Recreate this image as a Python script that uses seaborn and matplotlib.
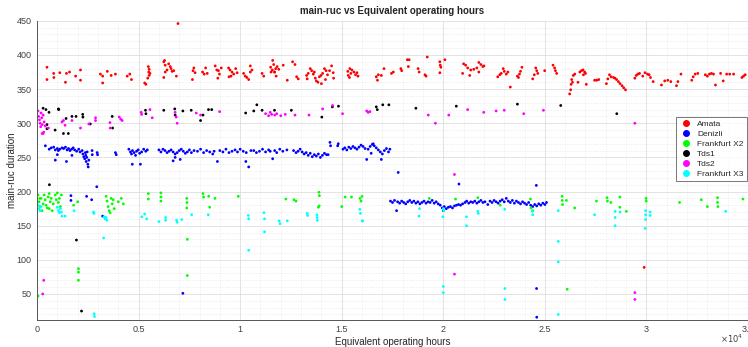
import pandas as pd
import seaborn as sns
import matplotlib.pyplot as plt
from matplotlib.lines import Line2D
from matplotlib.ticker import MultipleLocator, FuncFormatter

# (equivalent operating hours, main-ruc duration)
amata = [
    (490, 382), (490, 364), (820, 373), (830, 367), (1120, 374), (1400, 360), (1450, 373), (1600, 375),
    (1900, 369), (2140, 378), (2140, 363), (3120, 372), (3230, 369), (3230, 359), (3460, 376), (3650, 370),
    (3860, 372), (4440, 369), (4570, 372), (4650, 364), (5300, 359), (5360, 357), (5480, 383), (5520, 379),
    (5500, 375), (5560, 373), (5520, 370), (5450, 366), (6240, 390), (6310, 385), (6280, 392), (6480, 387),
    (6560, 383), (6310, 375), (6240, 367), (6730, 377), (6860, 369), (6600, 380), (6400, 378), (6650, 376),
    (6940, 446), (7680, 377), (7720, 381), (7650, 364), (7780, 374), (8150, 375), (8230, 372), (8300, 381),
    (8380, 373), (8770, 384), (8850, 378), (8930, 377), (8980, 372), (9070, 381), (8900, 366), (9430, 381),
    (9500, 378), (9600, 375), (9680, 372), (9550, 369), (9780, 380), (9850, 374), (9450, 368), (10170, 373),
    (10250, 369), (10330, 367), (10500, 384), (10580, 378), (10500, 375), (10420, 364), (11080, 373),
    (11160, 369), (11500, 382), (11580, 378), (11690, 375), (11770, 369), (11600, 392), (11650, 386),
    (11750, 380), (11820, 383), (11900, 379), (11520, 375), (11700, 375), (12120, 385), (12320, 363),
    (12580, 390), (12700, 386), (12780, 368), (12860, 365), (13270, 370), (13300, 365), (13350, 373),
    (13450, 380), (13520, 377), (13600, 372), (13700, 366), (13750, 362), (13830, 360), (13900, 368),
    (13980, 370), (14060, 373), (14150, 380), (14230, 377), (14300, 371), (14400, 377), (14500, 384),
    (14580, 374), (14600, 366), (14200, 364), (14000, 358), (13650, 375), (15300, 376), (15320, 370),
    (15380, 367), (15450, 373), (15500, 378), (15600, 375), (15680, 371), (15750, 374), (15800, 369),
    (15400, 380), (16700, 368), (16760, 363), (16800, 371), (16950, 370), (17080, 380), (17450, 373),
    (17540, 375), (17910, 380), (17950, 377), (18230, 393), (18320, 393), (18280, 383), (18760, 380),
    (18810, 375), (19100, 371), (19150, 369), (19210, 397), (19830, 390), (19850, 385), (19880, 382),
    (19830, 374), (20080, 393), (20950, 373), (21000, 387), (21100, 385), (21200, 381), (21350, 378),
    (21500, 379), (21650, 381), (21750, 389), (21850, 386), (21950, 383), (21750, 375), (22000, 384),
    (21300, 370), (22680, 368), (22780, 371), (22850, 373), (23000, 376), (23180, 375), (23300, 353),
    (22950, 380), (23100, 372), (23650, 369), (23700, 367), (23750, 372), (23870, 382), (23800, 376),
    (24400, 365), (24480, 371), (24550, 381), (24600, 377), (24650, 373), (24990, 377), (25400, 385),
    (25480, 381), (25520, 377), (25580, 373), (26220, 343), (26270, 349), (26290, 357), (26320, 364),
    (26400, 370), (26470, 372), (26360, 360), (26630, 360), (26720, 375), (26800, 377), (26880, 378),
    (26960, 375), (27000, 373), (26900, 371), (27040, 357), (27450, 363), (27550, 363), (27650, 364),
    (28030, 358), (28100, 365), (28180, 371), (28260, 368), (28380, 367), (28450, 366), (28530, 364),
    (28620, 361), (28700, 358), (28800, 355), (28880, 352), (28970, 349), (29430, 366), (29500, 370),
    (29580, 372), (29660, 373), (29820, 369), (29930, 374), (30050, 372), (30130, 371), (30200, 367),
    (30330, 361), (29890, 89), (30740, 356), (30900, 362), (31050, 363), (31200, 361), (31480, 355),
    (31550, 361), (31700, 372), (32230, 363), (32300, 368), (32400, 372), (32530, 373), (32900, 371),
    (33000, 369), (33100, 372), (33200, 373), (33300, 372), (33400, 356), (33650, 373), (33780, 362),
    (33950, 372), (34100, 372), (34290, 372), (34700, 367), (34780, 369), (34860, 371),
]

denizli = [
    (410, 267), (600, 262), (700, 264), (820, 265), (900, 261), (1000, 263), (1050, 260), (1120, 262),
    (1230, 264), (1310, 263), (1400, 265), (1480, 261), (1550, 263), (1620, 260), (1700, 262), (1780, 264),
    (1850, 261), (1950, 259), (2050, 262), (2120, 258), (2220, 260), (2260, 255), (2300, 251), (2350, 248),
    (2400, 253), (2420, 244), (2450, 250), (2500, 240), (2520, 236), (2550, 246), (2380, 257), (2470, 258),
    (2710, 260), (2720, 254), (2960, 257), (2980, 254), (900, 246), (1000, 254), (1450, 244), (1720, 253),
    (3860, 257), (3900, 254), (4520, 262), (4600, 258), (4650, 255), (4700, 260), (4780, 257), (4850, 253),
    (4900, 259), (4980, 261), (5050, 256), (5150, 258), (5250, 262), (5350, 259), (5430, 261), (4690, 240),
    (5090, 240), (6000, 261), (6100, 258), (6200, 262), (6300, 260), (6400, 257), (6500, 259), (6600, 261),
    (6700, 258), (6800, 255), (6900, 257), (7000, 260), (7100, 262), (7200, 259), (7300, 256), (7400, 258),
    (7500, 261), (7600, 257), (7730, 260), (6800, 250), (7050, 247), (6700, 245), (7900, 259), (8050, 262),
    (8200, 257), (8350, 260), (8500, 258), (8650, 255), (8720, 259), (8880, 244), (9000, 260), (9150, 258),
    (9300, 262), (9450, 257), (9600, 259), (9750, 261), (9870, 258), (10000, 262), (10150, 259), (10280, 244),
    (10300, 257), (10420, 236), (10530, 260), (10670, 260), (10800, 257), (10950, 259), (11100, 262),
    (11250, 258), (11400, 261), (11480, 259), (11600, 248), (11700, 260), (11800, 257), (11950, 262),
    (12100, 259), (12300, 261), (12630, 260), (12750, 257), (12850, 259), (12950, 262), (13050, 258),
    (13150, 255), (13250, 257), (13350, 253), (13450, 256), (13550, 251), (13650, 254), (13750, 252),
    (13850, 255), (13950, 250), (14050, 253), (14150, 256), (14250, 254), (14330, 254), (14420, 272),
    (14450, 267), (14830, 270), (14800, 267), (15060, 262), (15150, 264), (15250, 261), (15350, 265),
    (15450, 263), (15550, 266), (15650, 264), (15750, 262), (15850, 265), (15950, 268), (16050, 266),
    (16150, 263), (16230, 247), (16300, 262), (16400, 266), (16500, 269), (16600, 267), (16700, 264),
    (16800, 261), (16900, 258), (16950, 247), (17000, 255), (17100, 260), (17200, 263), (17300, 258),
    (17370, 262), (16550, 270), (16450, 256), (17780, 228),
    (17400, 186), (17500, 184), (17600, 187), (17700, 172), (17750, 185), (17850, 183), (17950, 186),
    (18050, 184), (18150, 182), (18250, 185), (18350, 187), (18450, 184), (18550, 186), (18650, 183),
    (18750, 185), (18850, 182), (18950, 184), (19050, 186), (19150, 183), (19250, 185), (19350, 184),
    (19450, 187), (19550, 183), (19650, 185), (19750, 182), (19850, 180), (19950, 176), (20000, 172),
    (20050, 178), (20150, 175), (20250, 177), (20350, 178), (20450, 176), (20550, 179), (20650, 180),
    (20770, 211), (20750, 181), (20850, 180), (20950, 182), (21070, 184), (21150, 186), (21250, 183),
    (21350, 185), (21450, 184), (21550, 186), (21650, 183), (21750, 185), (21850, 187), (21950, 184),
    (22050, 185), (22190, 181), (22300, 186), (22400, 184), (22500, 187), (22600, 185), (22700, 183),
    (22800, 186), (22900, 188), (23000, 185), (23100, 190), (23200, 186), (23300, 184), (23400, 187),
    (23500, 183), (23600, 186), (23700, 184), (23800, 182), (23900, 185), (24000, 183), (24100, 181),
    (24200, 184), (24300, 180), (24400, 178), (24500, 181), (24600, 179), (24700, 182), (24800, 180),
    (24900, 183), (25000, 181), (25080, 184),
    (24580, 209), (24590, 58), (24600, 16), (2940, 207), (1670, 194), (1670, 187), (2440, 193),
    (2690, 188), (3230, 164), (7180, 51),
]

frankfurt_x2 = [
    (50, 195), (100, 185), (150, 178), (200, 190), (250, 172), (300, 182), (350, 195), (400, 188),
    (450, 180), (500, 176), (550, 192), (600, 197), (650, 185), (700, 190), (750, 172), (800, 182),
    (900, 195), (950, 188), (1000, 198), (1050, 184), (1100, 190), (1150, 178), (1200, 195), (130, 190),
    (600, 175), (50, 47), (1800, 180), (2000, 185), (2040, 87), (2040, 82), (2040, 70), (3400, 193),
    (3450, 186), (3500, 178), (3550, 172), (3600, 169), (3650, 190), (3700, 182), (3750, 188), (3800, 175),
    (4000, 185), (4150, 190), (4250, 182), (5480, 197), (5480, 189), (6100, 198), (6100, 192), (6100, 186),
    (7370, 190), (7380, 184), (7370, 176), (7400, 130), (7400, 77), (8170, 197), (8200, 192), (8450, 193),
    (8500, 177), (8760, 190), (9910, 193), (12250, 189), (12650, 188), (12750, 186), (13880, 199),
    (13900, 194), (13890, 179), (13850, 177), (15000, 178), (15170, 192), (15480, 192), (15900, 190),
    (15950, 186), (16000, 193), (19310, 190), (20600, 189), (21700, 191), (22800, 180), (24290, 189),
    (24320, 176), (24400, 172), (25850, 193), (25850, 187), (25870, 181), (26060, 187), (26470, 176),
    (26100, 57), (27540, 186), (28060, 191), (28080, 186), (28250, 184), (28690, 192), (28690, 177),
    (29010, 171), (29980, 190), (29990, 186), (31630, 184), (32700, 188), (33000, 178), (33500, 191),
    (33500, 184), (33520, 178), (34750, 189),
]

tds1 = [
    (300, 322), (440, 320), (590, 316), (1070, 320), (490, 298), (490, 292), (890, 290), (1300, 285),
    (1540, 285), (1050, 321), (1430, 307), (1920, 310), (2250, 313), (2260, 309), (1720, 310), (2620, 299),
    (3700, 310), (3720, 293), (5340, 319), (5360, 314), (6240, 319), (6780, 321), (6800, 312), (7180, 318),
    (7590, 319), (8050, 304), (8170, 312), (8440, 320), (8600, 320), (10270, 315), (10820, 327),
    (10670, 318), (11080, 319), (11690, 319), (12520, 319), (14020, 309), (14540, 324), (14840, 325),
    (16700, 324), (16750, 320), (17020, 327), (17320, 327), (18650, 322), (20640, 325), (23650, 328),
    (25780, 326), (28540, 314), (610, 210), (1940, 129), (2190, 25),
]

tds2 = [
    (50, 318), (80, 310), (120, 305), (150, 300), (180, 295), (200, 315), (230, 308), (260, 298),
    (300, 312), (330, 287), (350, 302), (400, 296), (250, 285), (300, 285), (560, 293), (1230, 302),
    (1300, 304), (1380, 297), (1720, 304), (2140, 293), (2550, 299), (2880, 308), (2880, 304), (3590, 301),
    (3600, 293), (4050, 309), (4120, 306), (4190, 304), (5130, 316), (5150, 313), (5560, 320), (5670, 308),
    (6800, 316), (6850, 309), (6900, 300), (7840, 315), (8050, 312), (8990, 317), (11250, 314), (11400, 311),
    (11550, 313), (11700, 312), (11800, 314), (11480, 316), (12000, 311), (12220, 313), (12700, 312),
    (13390, 312), (14060, 321), (14550, 326), (15040, 314), (16230, 318), (16300, 316), (16390, 317),
    (19260, 312), (19610, 300), (20270, 312), (21200, 320), (21990, 316), (22600, 318), (23000, 319),
    (23960, 314), (24930, 319), (29430, 300), (20550, 225), (20550, 79), (29430, 52), (29430, 42),
    (330, 70), (280, 50),
]

frankfurt_x3 = [
    (50, 180), (100, 175), (150, 172), (200, 178), (1000, 177), (1050, 172), (1100, 169), (1150, 175),
    (1200, 170), (1230, 164), (1380, 164), (1820, 172), (2780, 170), (2800, 168), (2810, 21), (2830, 17),
    (3280, 132), (3300, 163), (3350, 160), (3400, 162), (3440, 158), (5160, 163), (5300, 167), (5400, 160),
    (6000, 156), (6330, 162), (6330, 158), (6870, 158), (6900, 155), (7120, 159), (7610, 166), (8430, 166),
    (10400, 165), (10420, 160), (10420, 114), (11170, 169), (11200, 160), (11200, 141), (11920, 157),
    (11960, 153), (12320, 157), (13300, 168), (13320, 165), (13780, 166), (13790, 162), (13800, 158),
    (15890, 174), (15920, 168), (16010, 157), (16030, 157), (18800, 164), (18830, 175), (19980, 163),
    (20000, 175), (20020, 172), (20000, 61), (20000, 52), (21140, 163), (21140, 150), (21700, 171),
    (21720, 168), (23020, 174), (23030, 58), (23030, 42), (24380, 171), (24400, 166), (25660, 172),
    (25660, 127), (25660, 97), (25660, 20), (27450, 166), (28460, 171), (28460, 162), (28460, 150),
    (28700, 170), (29940, 146), (29960, 172), (29960, 166), (29960, 159), (30180, 170), (30180, 165),
    (33900, 171),
]

sites = ["Amata", "Denizli", "Frankfurt X2", "Tds1", "Tds2", "Frankfurt X3"]
series = [amata, denizli, frankfurt_x2, tds1, tds2, frankfurt_x3]
colors = {"Amata": "#ff0000", "Denizli": "#0000ff", "Frankfurt X2": "#00ff00",
          "Tds1": "#000000", "Tds2": "#ff00ff", "Frankfurt X3": "#00ffff"}

rows = []
for site, pts in zip(sites, series):
    for h, d in pts:
        rows.append({"site": site, "hours": h, "duration": d})
df = pd.DataFrame(rows)

sns.set_style("white")
plt.rcParams["font.family"] = ["Liberation Sans", "DejaVu Sans"]

fig = plt.figure(figsize=(7.48, 3.47), dpi=100)
ax = fig.add_axes([0.0495, 0.078, 0.9505, 0.862])

sns.scatterplot(data=df, x="hours", y="duration", hue="site", hue_order=sites, palette=colors,
                s=4, linewidth=0, legend=False, ax=ax)

ax.set_xlim(0, 35000)
ax.set_ylim(12, 450)
ax.xaxis.set_major_locator(MultipleLocator(5000))
ax.xaxis.set_minor_locator(MultipleLocator(1000))
ax.yaxis.set_major_locator(MultipleLocator(50))
ax.yaxis.set_minor_locator(MultipleLocator(10))
ax.xaxis.set_major_formatter(FuncFormatter(lambda v, _: f"{v / 1e4:g}"))

ax.grid(which="major", color="#dedede", lw=0.6, ls="-")
ax.grid(which="minor", color="#e4e4e4", lw=0.5, ls=(0, (1, 1.5)))
ax.set_axisbelow(True)

for side in ["top", "right"]:
    ax.spines[side].set_visible(False)
for side in ["left", "bottom"]:
    ax.spines[side].set_color("#555555")
    ax.spines[side].set_linewidth(0.7)

ax.tick_params(which="major", direction="in", length=4, width=0.7, color="#555555",
               labelsize=6.5, labelcolor="#404040", pad=4)
ax.tick_params(which="minor", length=0)

ax.set_title("main-ruc vs Equivalent operating hours", fontsize=7, fontweight="bold", pad=5)
ax.set_xlabel("Equivalent operating hours", fontsize=7, color="#262626", labelpad=2)
ax.set_ylabel("main-ruc duration", fontsize=7, color="#262626")
ax.yaxis.set_label_coords(-0.028, 0.5)
fig.text(0.978, 0.012, r"$\times10^4$", fontsize=6, color="#404040", ha="center")

handles = [Line2D([], [], ls="", marker="o", markersize=4, color=colors[s]) for s in sites]
leg = ax.legend(handles, sites, loc="upper left", bbox_to_anchor=(0.899, 0.678), borderaxespad=0,
                fontsize=6, frameon=True, fancybox=False, edgecolor="#555555", borderpad=0.4,
                labelspacing=0.25, handletextpad=0.6, handlelength=1.5)
leg.get_frame().set_linewidth(0.7)

fig.savefig("out.png", dpi=100)
